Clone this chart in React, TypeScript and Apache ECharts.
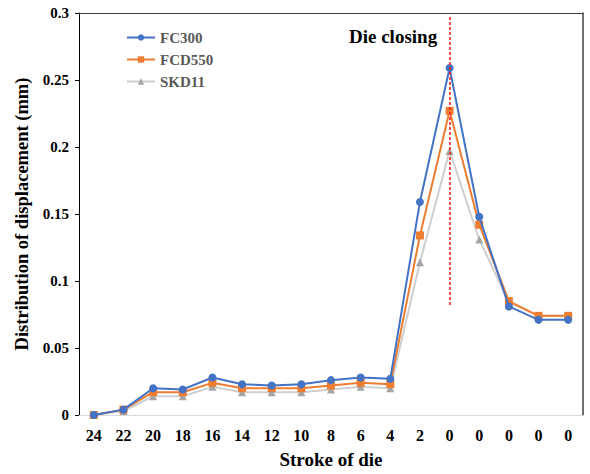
import React, { useEffect, useRef } from "react";
import * as echarts from "echarts";

const categories = ["24", "22", "20", "18", "16", "14", "12", "10", "8", "6", "4", "2", "0", "0", "0", "0", "0"];
const fc300 = [0, 0.004, 0.020, 0.019, 0.028, 0.023, 0.022, 0.023, 0.026, 0.028, 0.027, 0.159, 0.259, 0.148, 0.081, 0.071, 0.071];
const fcd550 = [0, 0.004, 0.017, 0.017, 0.024, 0.020, 0.020, 0.020, 0.022, 0.024, 0.023, 0.134, 0.227, 0.142, 0.085, 0.074, 0.074];
const skd11 = [0, 0.003, 0.014, 0.014, 0.021, 0.017, 0.017, 0.017, 0.019, 0.021, 0.020, 0.114, 0.197, 0.131, 0.084, 0.074, 0.074];
const dieClosingIndex = 12;
const dieLineRange = [0.082, 0.298];

const FONT = "'Liberation Serif', 'Times New Roman', serif";

export default function App() {
  const ref = useRef<HTMLDivElement>(null);
  useEffect(() => {
    if (!ref.current) return;
    document.body.style.margin = "0";
    const chart = echarts.init(ref.current, undefined, { renderer: "svg" });
    chart.setOption({
      animation: false,
      backgroundColor: "#ffffff",
      textStyle: { fontFamily: FONT },
      grid: { left: 79, right: 7, top: 13, bottom: 54, containLabel: false },
      legend: {
        orient: "vertical",
        left: 121,
        top: 25,
        itemWidth: 28,
        itemHeight: 8,
        itemGap: 7,
        textStyle: { fontFamily: FONT, fontSize: 15, fontWeight: "bold", color: "#595959" },
        data: ["FC300", "FCD550", "SKD11"],
      },
      xAxis: [
        {
          type: "category",
          data: categories,
          boundaryGap: true,
          axisLine: { show: true, lineStyle: { color: "#d9d9d9", width: 1 } },
          axisTick: { show: false },
          axisLabel: { interval: 0, margin: 12, fontFamily: FONT, fontSize: 16, fontWeight: "bold", color: "#000" },
          name: "Stroke of die",
          nameLocation: "middle",
          nameGap: 35,
          nameTextStyle: { fontFamily: FONT, fontSize: 19, fontWeight: "bold", color: "#000" },
          splitLine: { show: false },
        },
        {
          type: "value",
          position: "top",
          min: 0,
          max: 1,
          axisLine: { show: true, onZero: false, lineStyle: { color: "#404040", width: 1 } },
          axisTick: { show: false },
          axisLabel: { show: false },
          splitLine: { show: false },
        },
      ],
      yAxis: [
        {
          type: "value",
          min: 0,
          max: 0.3,
          interval: 0.05,
          axisLine: { show: true, lineStyle: { color: "#000", width: 1 } },
          axisTick: { show: true, inside: false, length: 4, lineStyle: { color: "#000" } },
          axisLabel: { margin: 10, fontFamily: FONT, fontSize: 15, fontWeight: "bold", color: "#000" },
          splitLine: { show: false },
          name: "Distribution of displacement (mm)",
          nameLocation: "middle",
          nameGap: 48,
          nameTextStyle: { fontFamily: FONT, fontSize: 18.5, fontWeight: "bold", color: "#000" },
        },
        {
          type: "value",
          position: "right",
          min: 0,
          max: 1,
          axisLine: { show: true, onZero: false, lineStyle: { color: "#404040", width: 1.5 } },
          axisTick: { show: false },
          axisLabel: { show: false },
          splitLine: { show: false },
        },
      ],
      series: [
        {
          name: "SKD11",
          type: "line",
          data: skd11,
          z: 2,
          symbol: "triangle",
          symbolSize: 8,
          lineStyle: { color: "#cfcfcf", width: 2 },
          itemStyle: { color: "#a5a5a5" },
        },
        {
          name: "FCD550",
          type: "line",
          data: fcd550,
          z: 3,
          symbol: "rect",
          symbolSize: 8,
          lineStyle: { color: "#ed7d31", width: 2 },
          itemStyle: { color: "#ed7d31" },
        },
        {
          name: "FC300",
          type: "line",
          data: fc300,
          z: 4,
          symbol: "circle",
          symbolSize: 8,
          lineStyle: { color: "#4472c4", width: 2 },
          itemStyle: { color: "#4472c4" },
          markLine: {
            silent: true,
            symbol: ["none", "none"],
            label: { show: false },
            lineStyle: { color: "#ff2020", type: [3, 2], width: 1.6, opacity: 1 },
            data: [
              [
                { coord: [dieClosingIndex, dieLineRange[0]] },
                { coord: [dieClosingIndex, dieLineRange[1]] },
              ],
            ],
          },
        },
      ],
      graphic: [
        {
          type: "text",
          left: 349,
          top: 27,
          style: { text: "Die closing", fontFamily: FONT, fontSize: 19, fontWeight: "bold", fill: "#000" },
        },
      ],
    });
    return () => chart.dispose();
  }, []);
  return <div ref={ref} style={{ width: 590, height: 474 }} />;
}
